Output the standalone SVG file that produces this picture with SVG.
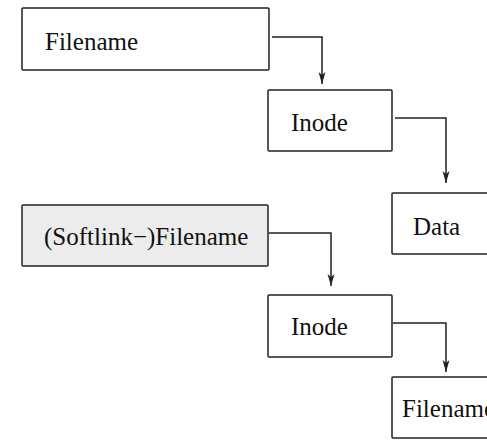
<svg xmlns="http://www.w3.org/2000/svg" width="487" height="440" viewBox="0 0 487 440">
<style>
.box{fill:#fff;stroke:#222;stroke-width:1.5}
.grey{fill:#ececec}
.lbl{font-family:"Liberation Serif","Times New Roman",serif;font-size:25px;fill:#111}
.con{fill:none;stroke:#222;stroke-width:1.5}
</style>
<defs>
<marker id="arr" viewBox="0 0 12 8" refX="12" refY="4" markerWidth="12" markerHeight="8" markerUnits="userSpaceOnUse" orient="auto">
<path d="M0,0.5 L12,4 L0,7.5 L3,4 Z" fill="#222"/>
</marker>
</defs>
<rect width="487" height="440" fill="#fff"/>
<g id="connectors">
<path class="con" d="M272,37 H322 V84" marker-end="url(#arr)"/>
<path class="con" d="M395,118 H446 V183" marker-end="url(#arr)"/>
<path class="con" d="M269,233 H331 V286" marker-end="url(#arr)"/>
<path class="con" d="M393,323 H446 V372" marker-end="url(#arr)"/>
</g>
<g id="filename1">
<rect class="box" x="22" y="8" width="247" height="62" rx="1"/>
<text class="lbl" x="45" y="50">Filename</text>
</g>
<g id="inode1">
<rect class="box" x="268" y="90" width="124" height="61" rx="1"/>
<text class="lbl" x="291" y="131">Inode</text>
</g>
<g id="data">
<rect class="box" x="392" y="193" width="100" height="61" rx="1"/>
<text class="lbl" x="413" y="235">Data</text>
</g>
<g id="softlink">
<rect class="box grey" x="22" y="205" width="246" height="61" rx="1"/>
<text class="lbl" x="44" y="245">(Softlink−)Filename</text>
</g>
<g id="inode2">
<rect class="box" x="268" y="295" width="124" height="62" rx="1"/>
<text class="lbl" x="291" y="335">Inode</text>
</g>
<g id="filename2">
<rect class="box" x="392" y="377" width="100" height="61" rx="1"/>
<text class="lbl" x="402" y="417">Filename</text>
</g>
</svg>
